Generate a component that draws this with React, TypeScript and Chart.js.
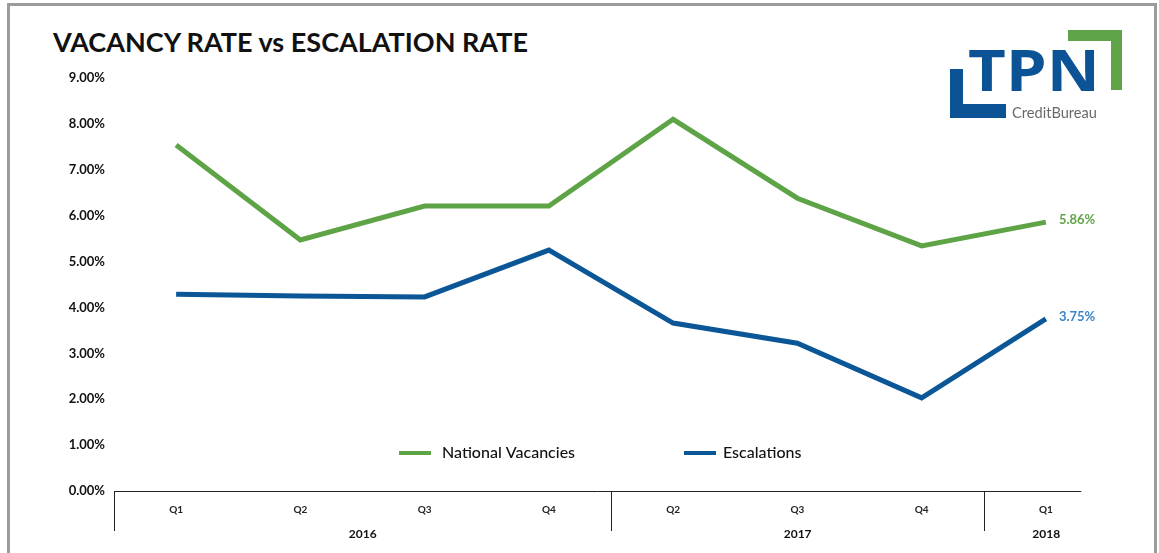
import React, { useEffect, useRef } from 'react';
import { Chart, registerables } from 'chart.js';

Chart.register(...registerables);

const quarterLabels = ['Q1', 'Q2', 'Q3', 'Q4', 'Q2', 'Q3', 'Q4', 'Q1'];
const yearLabels = ['2016', '2017', '2018'];
const yearSpans = [4, 3, 1];
const nationalVacancies = [7.54, 5.47, 6.21, 6.21, 8.1, 6.38, 5.34, 5.86];
const escalations = [4.29, 4.25, 4.23, 5.25, 3.66, 3.22, 2.03, 3.75];
const endLabels = ['5.86%', '3.75%'];
const seriesNames = ['National Vacancies', 'Escalations'];
const yMin = 0;
const yMax = 9;
const yStep = 1;

const GREEN = '#5ea447';
const BLUE = '#0b5696';
const LABEL_COLORS = ['#5ea447', '#3b86c9'];
const FONT = 'Lato, "Open Sans", "DejaVu Sans", sans-serif';

const groupAxisPlugin = {
  id: 'groupAxis',
  afterDraw(chart: any) {
    const ctx = chart.ctx;
    const x = chart.scales.x;
    const { left, bottom } = chart.chartArea;
    const half = (x.getPixelForValue(1) - x.getPixelForValue(0)) / 2;
    const n = quarterLabels.length;
    ctx.save();
    ctx.strokeStyle = '#222';
    ctx.lineWidth = 1;
    const lineEnd = x.getPixelForValue(n - 1) + half * 0.57;
    ctx.beginPath();
    ctx.moveTo(left, bottom + 0.5);
    ctx.lineTo(lineEnd, bottom + 0.5);
    ctx.stroke();
    let start = 0;
    ctx.fillStyle = '#111';
    ctx.font = `bold 12px ${FONT}`;
    ctx.textAlign = 'center';
    ctx.textBaseline = 'middle';
    yearLabels.forEach((yr, i) => {
      const s = Math.round(x.getPixelForValue(start) - half) + 0.5;
      const e = x.getPixelForValue(start + yearSpans[i] - 1) + half;
      ctx.beginPath();
      ctx.moveTo(s, bottom);
      ctx.lineTo(s, bottom + 40);
      ctx.stroke();
      ctx.fillText(yr, (s + e) / 2, bottom + 43);
      start += yearSpans[i];
    });
    ctx.restore();
  },
};

const endLabelPlugin = {
  id: 'endLabels',
  afterDatasetsDraw(chart: any) {
    const ctx = chart.ctx;
    ctx.save();
    ctx.font = `bold 13px ${FONT}`;
    ctx.textAlign = 'left';
    ctx.textBaseline = 'middle';
    chart.data.datasets.forEach((ds: any, i: number) => {
      const meta = chart.getDatasetMeta(i);
      const pt = meta.data[meta.data.length - 1];
      ctx.fillStyle = LABEL_COLORS[i];
      ctx.fillText(endLabels[i], pt.x + 13, pt.y - 2);
    });
    ctx.restore();
  },
};

const legendPlugin = {
  id: 'customLegend',
  afterDraw(chart: any) {
    const ctx = chart.ctx;
    const { left, bottom } = chart.chartArea;
    const y = bottom - 38;
    const starts = [left + 285, left + 570];
    const gaps = [11, 7];
    ctx.save();
    ctx.font = `500 16px ${FONT}`;
    ctx.textBaseline = 'middle';
    ctx.textAlign = 'left';
    chart.data.datasets.forEach((ds: any, i: number) => {
      const sx = starts[i];
      ctx.strokeStyle = ds.borderColor;
      ctx.lineWidth = 4;
      ctx.beginPath();
      ctx.moveTo(sx, y);
      ctx.lineTo(sx + 32, y);
      ctx.stroke();
      ctx.fillStyle = '#111';
      ctx.fillText(ds.label, sx + 32 + gaps[i], y);
    });
    ctx.restore();
  },
};

function ChartCanvas() {
  const ref = useRef<HTMLCanvasElement | null>(null);
  useEffect(() => {
    if (!ref.current) return;
    const chart = new Chart(ref.current, {
      type: 'line',
      data: {
        labels: quarterLabels,
        datasets: [
          {
            label: seriesNames[0],
            data: nationalVacancies,
            borderColor: GREEN,
            backgroundColor: GREEN,
            borderWidth: 5,
            pointRadius: 0,
            tension: 0,
            borderCapStyle: 'butt',
            borderJoinStyle: 'miter',
          },
          {
            label: seriesNames[1],
            data: escalations,
            borderColor: BLUE,
            backgroundColor: BLUE,
            borderWidth: 5,
            pointRadius: 0,
            tension: 0,
            borderCapStyle: 'butt',
            borderJoinStyle: 'miter',
          },
        ],
      },
      options: {
        responsive: false,
        animation: false,
        layout: { padding: { top: 78, right: 51, left: 0, bottom: 0 } },
        plugins: {
          legend: { display: false },
          title: { display: false },
          tooltip: { enabled: false },
        },
        scales: {
          x: {
            offset: true,
            grid: { display: false, drawTicks: false, tickLength: 0 },
            border: { display: false },
            ticks: {
              color: '#222',
              font: { family: FONT, size: 10, weight: 'bold' },
              padding: 13,
              maxRotation: 0,
              autoSkip: false,
            },
            afterFit(scale: any) {
              scale.height = 62;
            },
          },
          y: {
            min: yMin,
            max: yMax,
            grid: { display: false, drawTicks: false, tickLength: 0 },
            border: { display: false },
            ticks: {
              stepSize: yStep,
              color: '#111',
              font: { family: FONT, size: 13, weight: 'bold' },
              padding: 9,
              callback: (v: any) => Number(v).toFixed(2) + '%',
            },
            afterFit(scale: any) {
              scale.width = 114;
            },
          },
        },
      },
      plugins: [groupAxisPlugin, endLabelPlugin, legendPlugin],
    } as any);
    return () => chart.destroy();
  }, []);
  return (
    <canvas
      ref={ref}
      width={1159}
      height={553}
      style={{ position: 'absolute', left: 0, top: 0, width: 1159, height: 553 }}
    />
  );
}

export default function App() {
  return (
    <div style={{ position: 'fixed', left: 0, top: 0, width: 1159, height: 553, overflow: 'hidden', background: '#fff' }}>
      <div
        style={{
          position: 'absolute',
          left: 7,
          top: 3,
          width: 1144,
          height: 600,
          border: '3px solid #9c9c9c',
          boxSizing: 'content-box',
        }}
      />
      <div
        style={{
          position: 'absolute',
          left: 53,
          top: 26,
          fontFamily: FONT,
          fontWeight: 700,
          fontSize: 27,
          lineHeight: '32px',
          color: '#111',
          whiteSpace: 'nowrap',
        }}
      >
        VACANCY RATE vs ESCALATION RATE
      </div>
      <ChartCanvas />
      <svg
        width={1159}
        height={553}
        style={{ position: 'absolute', left: 0, top: 0, pointerEvents: 'none' }}
      >
        <rect x={950} y={69} width={13} height={49} fill="#0b5394" />
        <rect x={950} y={104} width={56} height={14} fill="#0b5394" />
        <rect x={1068} y={30} width={54} height={11} fill="#5fa447" />
        <rect x={1111} y={30} width={11} height={60} fill="#5fa447" />
        <text
          x={968}
          y={91}
          fontFamily='"Open Sans", Lato, sans-serif'
          fontWeight={700}
          fontSize={58}
          fill="#0b5394"
          textLength={132}
          lengthAdjust="spacingAndGlyphs"
        >
          TPN
        </text>
        <text
          x={1012}
          y={118}
          fontFamily='Lato, "Open Sans", sans-serif'
          fontWeight={400}
          fontSize={15}
          fill="#6a6a6a"
          textLength={85}
          lengthAdjust="spacingAndGlyphs"
        >
          CreditBureau
        </text>
      </svg>
    </div>
  );
}
